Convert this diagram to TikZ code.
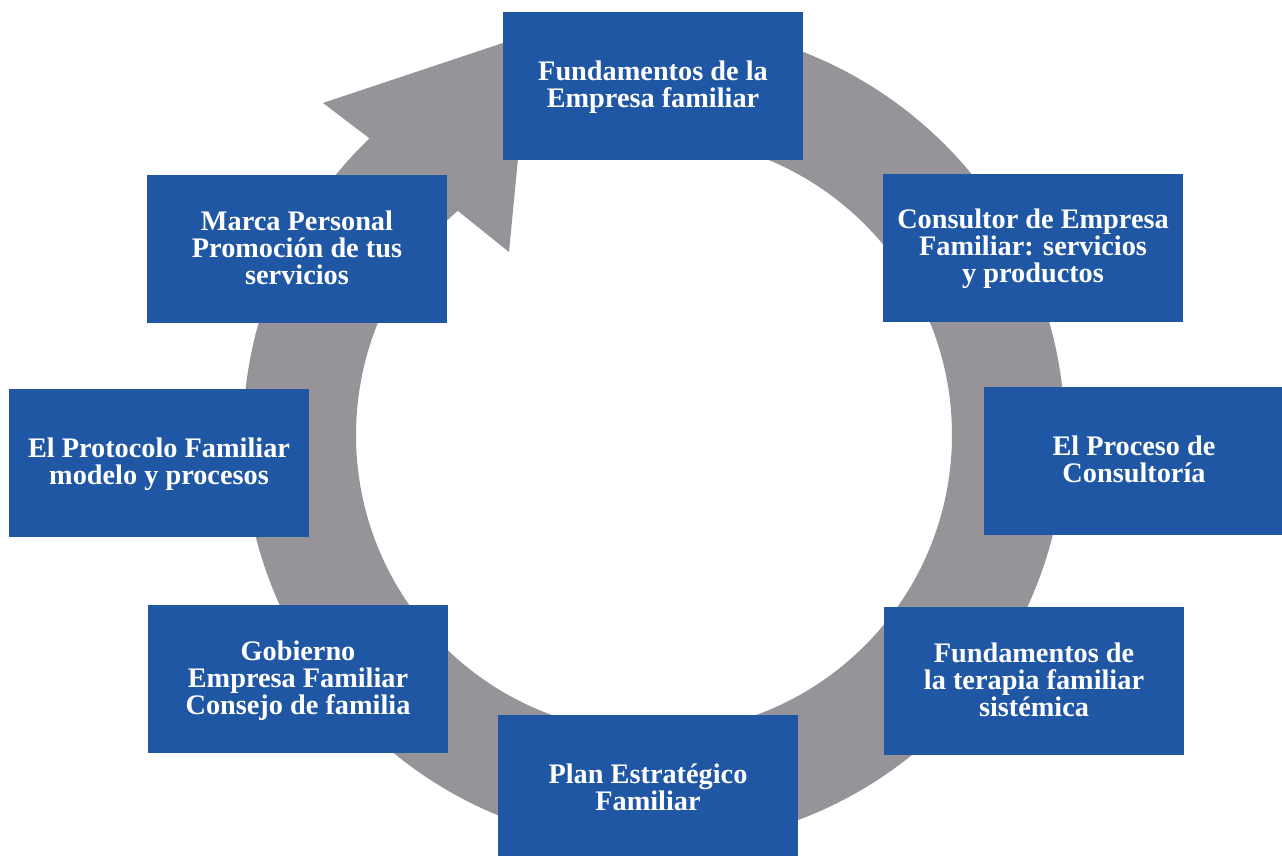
\documentclass[tikz,border=0pt]{standalone}
\usepackage{fontspec}
\setmainfont{Liberation Serif}
\usetikzlibrary{calc}
\definecolor{boxblue}{RGB}{32,87,165}
\definecolor{ringgray}{RGB}{150,147,153}
\newcommand\tstr{\rule{0pt}{24pt}}
\newcommand\bstr{\rule[-8pt]{0pt}{8pt}}
\begin{document}
\begin{tikzpicture}[x=1pt,y=1pt,
  stepbox/.style={fill=boxblue, text=white, inner sep=0pt, minimum width=300pt, minimum height=148pt,
    align=center, font=\fontsize{28.3}{27}\selectfont\bfseries}]
\useasboundingbox (0,0) rectangle (1282,855);
\coordinate (C) at (654,420);
% ring arrow
\fill[ringgray] ($(C)+(95:411)$) arc[start angle=95, end angle=-226.2, radius=411]
  -- (323,752) -- (530,821) -- (509,603) -- ($(C)+(131.2:298)$)
  arc[start angle=-228.8, end angle=95, radius=298] -- cycle;
% boxes
\node[stepbox] (n1) at (653,769) {\tstr Fundamentos de la\\Empresa familiar\bstr};
\node[stepbox] (n2) at (1033,607) {\tstr Consultor de Empresa\\Familiar: servicios\\y productos\bstr};
\node[stepbox] (n3) at (1134,394) {\tstr El Proceso de\\Consultoría\bstr};
\node[stepbox] (n4) at (1034,174) {\tstr Fundamentos de\\la terapia familiar\\sistémica\bstr};
\node[stepbox] (n5) at (648,66) {\tstr Plan Estratégico\\Familiar\bstr};
\node[stepbox] (n6) at (298,176) {\tstr Gobierno\\Empresa Familiar\\Consejo de familia\bstr};
\node[stepbox] (n7) at (159,392) {\tstr El Protocolo Familiar\\modelo y procesos\bstr};
\node[stepbox] (n8) at (297,605.5) {\tstr Marca Personal\\Promoción de tus\\servicios\bstr};
\end{tikzpicture}
\end{document}
